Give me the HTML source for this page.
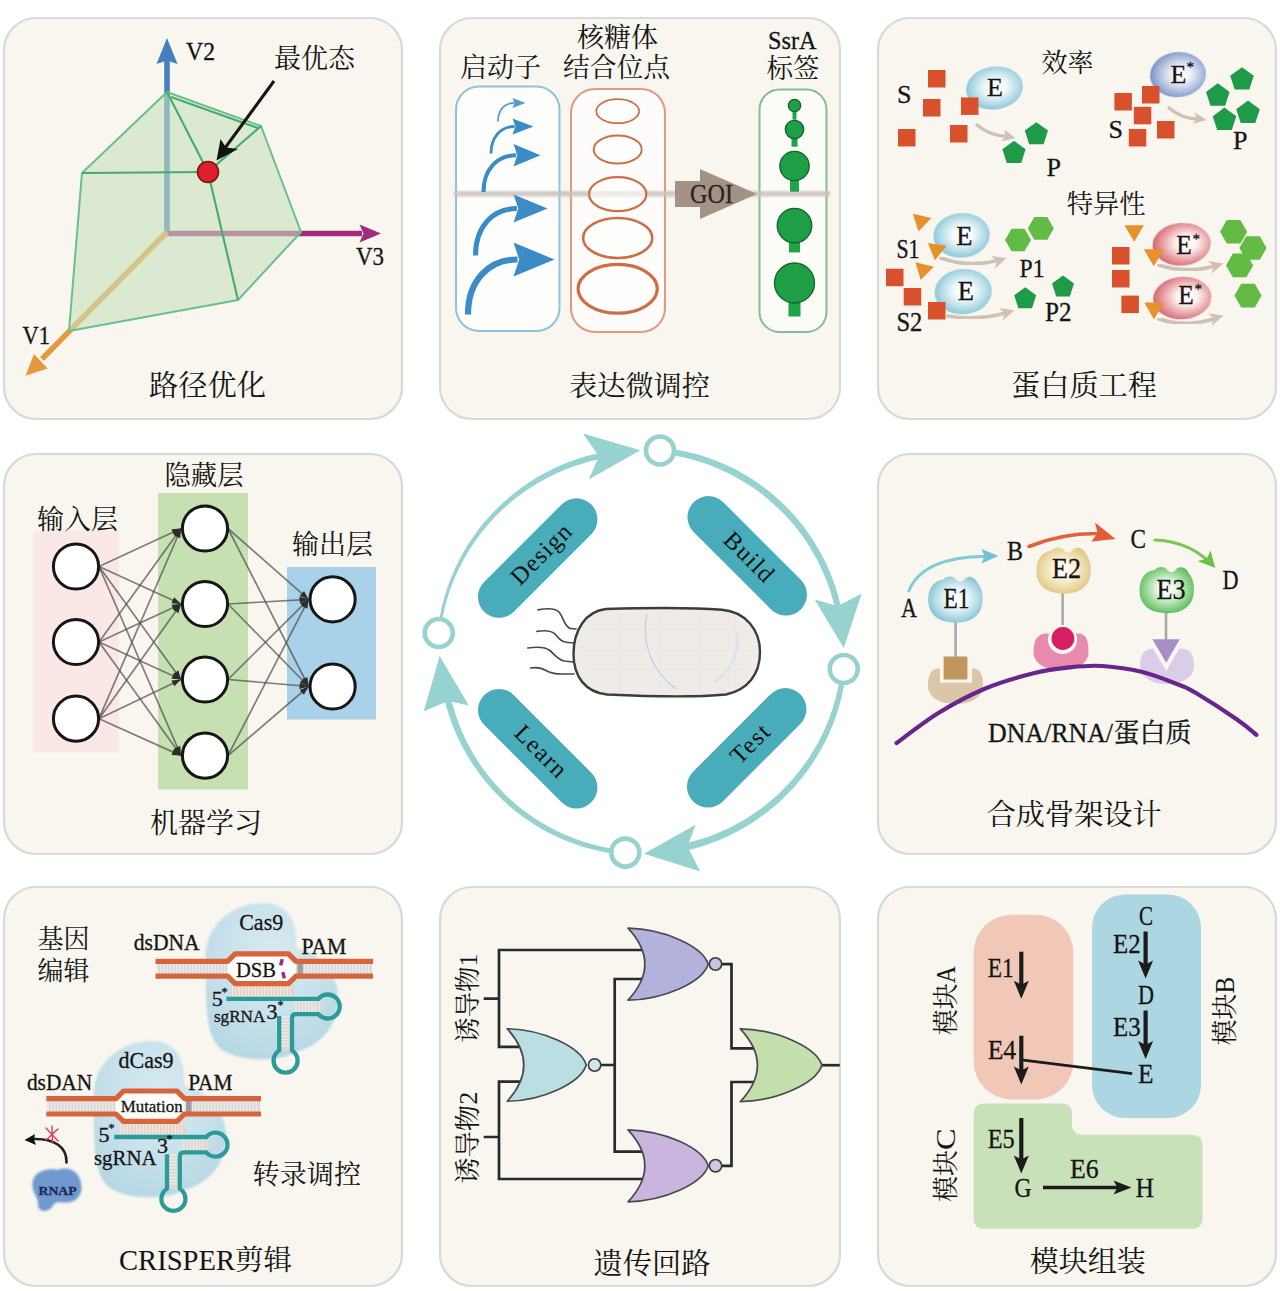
<!DOCTYPE html>
<html lang="zh"><head><meta charset="utf-8"><title>DBTL</title>
<style>
html,body{margin:0;padding:0;background:#fff;}
svg{display:block;font-family:"Liberation Serif", "Noto Serif CJK SC", serif;}
</style></head><body>
<svg width="1280" height="1291" viewBox="0 0 1280 1291">
<defs>
<filter id="soft" x="-10%" y="-10%" width="120%" height="120%"><feGaussianBlur stdDeviation="0.6"/></filter>
<filter id="soft2" x="-10%" y="-10%" width="120%" height="120%"><feGaussianBlur stdDeviation="1.2"/></filter>
<filter id="soft3" x="-20%" y="-20%" width="140%" height="140%"><feGaussianBlur stdDeviation="2.2"/></filter>
<radialGradient id="gBlue" cx="52%" cy="48%" r="56%"><stop offset="0" stop-color="#ffffff"/><stop offset="0.32" stop-color="#f3fafb"/><stop offset="0.72" stop-color="#b2dbe5"/><stop offset="1" stop-color="#80c0d3"/></radialGradient>
<radialGradient id="gIndigo" cx="55%" cy="50%" r="58%"><stop offset="0" stop-color="#ffffff"/><stop offset="0.3" stop-color="#eef1f8"/><stop offset="0.7" stop-color="#a9b8da"/><stop offset="1" stop-color="#7189bf"/></radialGradient>
<radialGradient id="gPink" cx="58%" cy="48%" r="56%"><stop offset="0" stop-color="#ffffff"/><stop offset="0.32" stop-color="#fdf3f2"/><stop offset="0.72" stop-color="#e9a0a6"/><stop offset="1" stop-color="#d46e79"/></radialGradient>
<radialGradient id="gTan" cx="50%" cy="48%" r="58%"><stop offset="0" stop-color="#ffffff"/><stop offset="0.3" stop-color="#fbf5e4"/><stop offset="0.7" stop-color="#ecd9a6"/><stop offset="1" stop-color="#dfc07a"/></radialGradient>
<radialGradient id="gGreen" cx="50%" cy="48%" r="58%"><stop offset="0" stop-color="#ffffff"/><stop offset="0.3" stop-color="#eaf7e8"/><stop offset="0.7" stop-color="#8fd48c"/><stop offset="1" stop-color="#4fb552"/></radialGradient>
<radialGradient id="gCas" cx="50%" cy="35%" r="70%"><stop offset="0" stop-color="#d9eaf0"/><stop offset="0.6" stop-color="#c6e0ea"/><stop offset="1" stop-color="#b3d6e3"/></radialGradient>
</defs>
<rect width="1280" height="1291" fill="#ffffff"/>

<rect x="4" y="18" width="398" height="401" rx="32" ry="32" fill="#f8f6ee" stroke="#d9d9d5" stroke-width="2.2" filter="url(#soft)"/>
<rect x="440" y="18" width="400" height="401" rx="32" ry="32" fill="#f8f6ee" stroke="#d9d9d5" stroke-width="2.2" filter="url(#soft)"/>
<rect x="878" y="18" width="398" height="401" rx="32" ry="32" fill="#f8f6ee" stroke="#d9d9d5" stroke-width="2.2" filter="url(#soft)"/>
<rect x="4" y="454" width="398" height="400" rx="32" ry="32" fill="#f8f6ee" stroke="#d9d9d5" stroke-width="2.2" filter="url(#soft)"/>
<rect x="878" y="454" width="398" height="400" rx="32" ry="32" fill="#f8f6ee" stroke="#d9d9d5" stroke-width="2.2" filter="url(#soft)"/>
<rect x="4" y="887" width="398" height="399" rx="32" ry="32" fill="#f8f6ee" stroke="#d9d9d5" stroke-width="2.2" filter="url(#soft)"/>
<rect x="440" y="887" width="400" height="399" rx="32" ry="32" fill="#f8f6ee" stroke="#d9d9d5" stroke-width="2.2" filter="url(#soft)"/>
<rect x="878" y="887" width="398" height="399" rx="32" ry="32" fill="#f8f6ee" stroke="#d9d9d5" stroke-width="2.2" filter="url(#soft)"/>
<g id="p1">
<line x1="167" y1="232" x2="167" y2="60" stroke="#4580bd" stroke-width="5.6"/>
<polygon points="167,38 156.5,64 167,60.5 177.5,64" fill="#4580bd"/>
<line x1="167" y1="233.5" x2="362" y2="233.5" stroke="#a02c7c" stroke-width="5.4"/>
<polygon points="381,233.5 359.5,224.5 363.5,233.5 359.5,242.5" fill="#a02c7c"/>
<line x1="167" y1="232" x2="42" y2="359" stroke="#e8983c" stroke-width="5.4"/>
<polygon points="25.6,375.8 34,354 41.8,362.3 47.5,368.6" fill="#e8983c"/>
<polygon points="167,92 261,126 301,232 238,300 69,331 82,173" fill="#c8e0bc" fill-opacity="0.58" stroke="#6bbf8c" stroke-width="2" stroke-linejoin="round"/>
<line x1="167" y1="92" x2="208" y2="172" stroke="#45ab6e" stroke-width="2.1"/>
<line x1="208" y1="172" x2="261" y2="126" stroke="#45ab6e" stroke-width="2.1"/>
<line x1="82" y1="173" x2="208" y2="172" stroke="#45ab6e" stroke-width="2.1"/>
<line x1="208" y1="172" x2="238" y2="300" stroke="#45ab6e" stroke-width="2.1"/>
<line x1="171" y1="97" x2="259" y2="128.5" stroke="#45ab6e" stroke-width="2.1"/>
<line x1="274" y1="81" x2="225" y2="148" stroke="#151515" stroke-width="3"/>
<polygon points="216.5,160.5 220.5,139 226,147.5 238,149" fill="#111"/>
<circle cx="208" cy="172" r="10.5" fill="#df1f2b" stroke="#7c1418" stroke-width="1.6"/>
<text x="186" y="60" font-size="25" textLength="29" lengthAdjust="spacingAndGlyphs" fill="#151515" stroke="#151515" stroke-width="0.3">V2</text>
<text x="356" y="265" font-size="25" textLength="28" lengthAdjust="spacingAndGlyphs" fill="#151515" stroke="#151515" stroke-width="0.3">V3</text>
<text x="22.5" y="343.75" font-size="26" textLength="27.5" lengthAdjust="spacingAndGlyphs" fill="#151515" stroke="#151515" stroke-width="0.3">V1</text>
<text x="274" y="68" font-size="27" textLength="81" lengthAdjust="spacingAndGlyphs" fill="#151515">最优态</text>
<text x="149" y="396" font-size="29" textLength="117" lengthAdjust="spacingAndGlyphs" fill="#151515">路径优化</text>
</g>
<g id="p2">
<rect x="456" y="86.5" width="103.5" height="244.5" rx="23" fill="#fdfdfc" stroke="#8ec3de" stroke-width="2"/>
<rect x="571" y="89" width="94" height="243" rx="24" fill="#fdfcfa" stroke="#e39a7c" stroke-width="2"/>
<rect x="759.5" y="89.5" width="67" height="242.5" rx="20" fill="#fbfcf8" stroke="#86bb98" stroke-width="2"/>
<rect x="454" y="191" width="376" height="5.6" fill="#cbc2ba" opacity="0.85" filter="url(#soft2)"/>
<polygon points="675,181 700,181 700,169 757,194 700,219 700,207 675,207" fill="#a39387" filter="url(#soft)"/>
<text x="690" y="202.5" font-size="26.5" textLength="43" lengthAdjust="spacingAndGlyphs" fill="#2a2420" stroke="#2a2420" stroke-width="0.3">GOI</text>
<path d="M498,121.5 C498,110.03 504.63599999999997,103 513.8,103" fill="none" stroke="#3b8bc6" stroke-width="1.8" stroke-linecap="butt" opacity="0.85"/>
<polygon points="525.5,103 512.5,98.0 514.32,103 512.5,108.0" fill="#3b8bc6" opacity="0.85"/>
<path d="M491,153.5 C491,136.76 500.91200000000003,126.5 514.6,126.5" fill="none" stroke="#3b8bc6" stroke-width="2.8" stroke-linecap="butt" opacity="1"/>
<polygon points="533.5,126.5 512.5,118.5 515.44,126.5 512.5,134.5" fill="#3b8bc6" opacity="1"/>
<path d="M483.5,192 C483.5,169.246 497.23400000000004,155.3 516.2,155.3" fill="none" stroke="#3b8bc6" stroke-width="4" stroke-linecap="butt" opacity="1"/>
<polygon points="540.5,155.3 513.5,144.05 517.28,155.3 513.5,166.55" fill="#3b8bc6" opacity="1"/>
<path d="M475.5,255.5 C475.5,226.36 492.888,208.5 516.9,208.5" fill="none" stroke="#3b8bc6" stroke-width="5" stroke-linecap="butt" opacity="1"/>
<polygon points="547.5,208.5 513.5,194.5 518.26,208.5 513.5,222.5" fill="#3b8bc6" opacity="1"/>
<path d="M468,314.5 C468,280.4 488.832,259.5 517.6,259.5" fill="none" stroke="#3b8bc6" stroke-width="6.2" stroke-linecap="butt" opacity="1"/>
<polygon points="554.5,259.5 513.5,242.5 519.24,259.5 513.5,276.5" fill="#3b8bc6" opacity="1"/>
<ellipse cx="617.7" cy="111.2" rx="21.4" ry="12" fill="#ffffff" fill-opacity="0.6" stroke="#cd6e45" stroke-width="1.7"/>
<ellipse cx="617.7" cy="149.5" rx="24" ry="14" fill="#ffffff" fill-opacity="0.6" stroke="#cd6e45" stroke-width="1.9"/>
<ellipse cx="617.7" cy="194.2" rx="28.6" ry="17" fill="#ffffff" fill-opacity="0.6" stroke="#cd6e45" stroke-width="2.2"/>
<ellipse cx="617.7" cy="238" rx="34.6" ry="20" fill="#ffffff" fill-opacity="0.6" stroke="#cd6e45" stroke-width="2.6"/>
<ellipse cx="617.7" cy="288.8" rx="39.6" ry="24.4" fill="#ffffff" fill-opacity="0.6" stroke="#cd6e45" stroke-width="3.2"/>
<rect x="792.5" y="105.5" width="4" height="14.2" fill="#1fa347"/>
<circle cx="794.5" cy="105.5" r="6.2" fill="#1e9f45" stroke="#12632c" stroke-width="1.3"/>
<rect x="791.5" y="129.5" width="6" height="17.2" fill="#1fa347"/>
<circle cx="794.5" cy="129.5" r="9.2" fill="#1e9f45" stroke="#12632c" stroke-width="1.3"/>
<rect x="790.0" y="166" width="9" height="25.7" fill="#1fa347"/>
<circle cx="794.5" cy="166" r="14.7" fill="#1e9f45" stroke="#12632c" stroke-width="1.3"/>
<rect x="789.0" y="225.6" width="11" height="26.8" fill="#1fa347"/>
<circle cx="794.5" cy="225.6" r="17.3" fill="#1e9f45" stroke="#12632c" stroke-width="1.3"/>
<rect x="788.5" y="283" width="12" height="33.5" fill="#1fa347"/>
<circle cx="794.5" cy="283" r="20" fill="#1e9f45" stroke="#12632c" stroke-width="1.3"/>
<text x="460" y="77" font-size="27" textLength="81" lengthAdjust="spacingAndGlyphs" fill="#151515">启动子</text>
<text x="577" y="47" font-size="27" textLength="81" lengthAdjust="spacingAndGlyphs" fill="#151515">核糖体</text>
<text x="563" y="77" font-size="27" textLength="107" lengthAdjust="spacingAndGlyphs" fill="#151515">结合位点</text>
<text x="768" y="48.5" font-size="24.5" textLength="48.5" lengthAdjust="spacingAndGlyphs" fill="#151515" stroke="#151515" stroke-width="0.3">SsrA</text>
<text x="766.5" y="77.5" font-size="27" textLength="53" lengthAdjust="spacingAndGlyphs" fill="#151515">标签</text>
<text x="569" y="396" font-size="28.5" textLength="141" lengthAdjust="spacingAndGlyphs" fill="#151515">表达微调控</text>
</g>
<g id="p3">
<text x="1041.5" y="72" font-size="26.5" textLength="52" lengthAdjust="spacingAndGlyphs" fill="#151515">效率</text>
<ellipse cx="994.5" cy="88" rx="28.5" ry="21.5" fill="url(#gBlue)" transform="rotate(-8 994.5 88)" filter="url(#soft)"/>
<rect x="928" y="70" width="17.5" height="17.5" fill="#d9512c"/>
<rect x="923" y="99" width="17.5" height="17.5" fill="#d9512c"/>
<rect x="961" y="97.4" width="17.5" height="17.5" fill="#d9512c"/>
<rect x="898" y="129" width="17.5" height="17.5" fill="#d9512c"/>
<rect x="950" y="125" width="17.5" height="17.5" fill="#d9512c"/>
<text x="897" y="102.5" font-size="26" fill="#151515" stroke="#151515" stroke-width="0.3">S</text>
<text x="987" y="95.7" font-size="26" fill="#151515" stroke="#151515" stroke-width="0.3">E</text>
<path d="M977,125 Q990,136 1008,136.5" fill="none" stroke="#cfc1b4" stroke-width="3.4" stroke-linecap="round" filter="url(#soft)"/>
<polygon points="1015.5,138.0 1001.5,141.2 1006.0,136.0 1004.0,129.4" fill="#cfc1b4"/>
<polygon points="1036.4,122.2 1048.0,130.6 1043.6,144.3 1029.2,144.3 1024.8,130.6" fill="#1f9a48"/>
<polygon points="1014.0,140.8 1025.6,149.2 1021.2,162.9 1006.8,162.9 1002.4,149.2" fill="#1f9a48"/>
<text x="1046.5" y="176.4" font-size="26" fill="#151515" stroke="#151515" stroke-width="0.3">P</text>
<ellipse cx="1178" cy="74.6" rx="28" ry="22.5" fill="url(#gIndigo)" transform="rotate(-5 1178 74.6)" filter="url(#soft)"/>
<rect x="1114.4" y="93" width="17.5" height="17.5" fill="#d9512c"/>
<rect x="1142" y="86" width="17.5" height="17.5" fill="#d9512c"/>
<rect x="1133.8" y="106.8" width="17.5" height="17.5" fill="#d9512c"/>
<rect x="1157" y="121" width="17.5" height="17.5" fill="#d9512c"/>
<rect x="1128.8" y="129" width="17.5" height="17.5" fill="#d9512c"/>
<text x="1108.6" y="137.7" font-size="26" fill="#151515" stroke="#151515" stroke-width="0.3">S</text>
<text x="1170.5" y="83" font-size="26" fill="#151515" stroke="#151515" stroke-width="0.3">E</text>
<text x="1186.5" y="72" font-size="15" fill="#151515" stroke="#151515" stroke-width="0.3">*</text>
<path d="M1169,108 Q1182,119 1199,119" fill="none" stroke="#cfc1b4" stroke-width="3.4" stroke-linecap="round" filter="url(#soft)"/>
<polygon points="1206.5,120.0 1192.8,124.1 1196.8,118.6 1194.5,112.2" fill="#cfc1b4"/>
<polygon points="1242.0,67.2 1253.8,75.8 1249.3,89.6 1234.7,89.6 1230.2,75.8" fill="#1f9a48"/>
<polygon points="1217.8,83.3 1229.6,91.9 1225.1,105.7 1210.5,105.7 1206.0,91.9" fill="#1f9a48"/>
<polygon points="1248.0,100.6 1259.8,109.2 1255.3,123.0 1240.7,123.0 1236.2,109.2" fill="#1f9a48"/>
<polygon points="1224.5,107.6 1236.3,116.2 1231.8,130.0 1217.2,130.0 1212.7,116.2" fill="#1f9a48"/>
<text x="1233" y="148.8" font-size="26" fill="#151515" stroke="#151515" stroke-width="0.3">P</text>
<text x="1066.7" y="213" font-size="26.5" textLength="79" lengthAdjust="spacingAndGlyphs" fill="#151515">特异性</text>
<ellipse cx="961.6" cy="235.3" rx="28.2" ry="22.3" fill="url(#gBlue)" transform="rotate(-4 961.6 235.3)" filter="url(#soft)"/>
<ellipse cx="963.2" cy="291.7" rx="28.6" ry="22.6" fill="url(#gBlue)" transform="rotate(-4 963.2 291.7)" filter="url(#soft)"/>
<polygon points="-9.5,-6.72 9.5,-6.72 0,9.28" fill="#e6912c" transform="translate(920.6 222.5) rotate(13)"/>
<polygon points="-9.5,-6.72 9.5,-6.72 0,9.28" fill="#e6912c" transform="translate(936.3 251) rotate(9)"/>
<polygon points="-9.5,-6.72 9.5,-6.72 0,9.28" fill="#e6912c" transform="translate(923 271) rotate(14)"/>
<rect x="886" y="268.7" width="17.5" height="17.5" fill="#d9512c"/>
<rect x="903.7" y="288" width="17.5" height="17.5" fill="#d9512c"/>
<rect x="928" y="302" width="17.5" height="17.5" fill="#d9512c"/>
<text x="956.3" y="244.5" font-size="26.5" fill="#151515" stroke="#151515" stroke-width="0.3">E</text>
<text x="957.8" y="299.5" font-size="26.5" fill="#151515" stroke="#151515" stroke-width="0.3">E</text>
<text x="896.4" y="258.2" font-size="27.3" textLength="23" lengthAdjust="spacingAndGlyphs" fill="#151515" stroke="#151515" stroke-width="0.3">S1</text>
<text x="896.4" y="331.3" font-size="27.3" textLength="26" lengthAdjust="spacingAndGlyphs" fill="#151515" stroke="#151515" stroke-width="0.3">S2</text>
<path d="M941,258 Q968,268 998,260.5" fill="none" stroke="#cfc1b4" stroke-width="3.8" stroke-linecap="round" filter="url(#soft)"/>
<polygon points="1006.5,258.0 995.2,268.5 996.5,261.2 991.2,256.1" fill="#cfc1b4"/>
<path d="M948,316 Q975,321 1006,313" fill="none" stroke="#cfc1b4" stroke-width="3.8" stroke-linecap="round" filter="url(#soft)"/>
<polygon points="1014.5,310.5 1002.8,320.6 1004.4,313.4 999.3,308.1" fill="#cfc1b4"/>
<polygon points="1031.0,240.0 1024.5,251.3 1011.5,251.3 1005.0,240.0 1011.5,228.7 1024.5,228.7" fill="#63bb45"/>
<polygon points="1053.8,228.4 1047.3,239.7 1034.3,239.7 1027.8,228.4 1034.3,217.1 1047.3,217.1" fill="#63bb45"/>
<text x="1019.6" y="277" font-size="26" textLength="25" lengthAdjust="spacingAndGlyphs" fill="#151515" stroke="#151515" stroke-width="0.3">P1</text>
<polygon points="1025.2,287.2 1036.2,295.2 1032.0,308.2 1018.4,308.2 1014.2,295.2" fill="#1f9a48"/>
<polygon points="1063.0,275.4 1074.0,283.4 1069.8,296.4 1056.2,296.4 1052.0,283.4" fill="#1f9a48"/>
<text x="1045" y="320.5" font-size="27" textLength="26.5" lengthAdjust="spacingAndGlyphs" fill="#151515" stroke="#151515" stroke-width="0.3">P2</text>
<ellipse cx="1181.7" cy="244.2" rx="29.2" ry="21.3" fill="url(#gPink)" transform="rotate(-4 1181.7 244.2)" filter="url(#soft)"/>
<ellipse cx="1182.3" cy="298" rx="29.2" ry="21.3" fill="url(#gPink)" transform="rotate(-4 1182.3 298)" filter="url(#soft)"/>
<polygon points="-9.75,-6.93 9.75,-6.93 0,9.569999999999999" fill="#e6912c" transform="translate(1134.2 232.3) rotate(0)"/>
<polygon points="-10.0,-7.14 10.0,-7.14 0,9.86" fill="#e6912c" transform="translate(1153.8 256.5) rotate(0)"/>
<polygon points="-9.75,-7.14 9.75,-7.14 0,9.86" fill="#e6912c" transform="translate(1154 309.6) rotate(0)"/>
<rect x="1112" y="247" width="17.5" height="17.5" fill="#d9512c"/>
<rect x="1112" y="270" width="17.5" height="17.5" fill="#d9512c"/>
<rect x="1121.4" y="295.6" width="17.5" height="17.5" fill="#d9512c"/>
<text x="1176.2" y="253.5" font-size="28" textLength="15.5" lengthAdjust="spacingAndGlyphs" fill="#151515" stroke="#151515" stroke-width="0.3">E</text>
<text x="1192.5" y="243.5" font-size="15" fill="#151515" stroke="#151515" stroke-width="0.3">*</text>
<text x="1178.2" y="304" font-size="28" textLength="15.5" lengthAdjust="spacingAndGlyphs" fill="#151515" stroke="#151515" stroke-width="0.3">E</text>
<text x="1194.5" y="294" font-size="15" fill="#151515" stroke="#151515" stroke-width="0.3">*</text>
<path d="M1159,265 Q1186,274 1215,266" fill="none" stroke="#cfc1b4" stroke-width="3.8" stroke-linecap="round" filter="url(#soft)"/>
<polygon points="1223.5,263.5 1211.8,273.6 1213.4,266.4 1208.3,261.1" fill="#cfc1b4"/>
<path d="M1159,319 Q1186,328 1215,318.5" fill="none" stroke="#cfc1b4" stroke-width="3.8" stroke-linecap="round" filter="url(#soft)"/>
<polygon points="1223.5,315.7 1211.8,325.8 1213.4,318.6 1208.3,313.3" fill="#cfc1b4"/>
<polygon points="1247.2,231.8 1240.4,243.6 1226.8,243.6 1220.0,231.8 1226.8,220.0 1240.4,220.0" fill="#63bb45"/>
<polygon points="1266.6,248.0 1259.8,259.8 1246.2,259.8 1239.4,248.0 1246.2,236.2 1259.8,236.2" fill="#63bb45"/>
<polygon points="1253.2,265.4 1246.4,277.2 1232.8,277.2 1226.0,265.4 1232.8,253.6 1246.4,253.6" fill="#63bb45"/>
<polygon points="1261.6,295.6 1254.8,307.4 1241.2,307.4 1234.4,295.6 1241.2,283.8 1254.8,283.8" fill="#63bb45"/>
<text x="1011" y="396" font-size="29" textLength="146" lengthAdjust="spacingAndGlyphs" fill="#151515">蛋白质工程</text>
</g>
<g id="p4">
<rect x="33.5" y="531" width="85.5" height="221.5" fill="#f9e8e5"/>
<rect x="158" y="493" width="90" height="296.5" fill="#c6e0b2"/>
<rect x="287" y="567" width="89" height="152.5" fill="#a9d1ea"/>
<line x1="99.0" y1="566.5" x2="181.0" y2="528.5" stroke="#505050" stroke-width="1.7" opacity="0.72"/>
<polygon points="181.0,528.5 174.2,535.2 172.8,532.3 171.5,529.3" fill="#2c2c2c"/>
<line x1="99.0" y1="566.5" x2="181.0" y2="604.0" stroke="#505050" stroke-width="1.7" opacity="0.72"/>
<polygon points="181.0,604.0 171.5,603.2 172.8,600.3 174.2,597.3" fill="#2c2c2c"/>
<line x1="99.0" y1="566.5" x2="181.0" y2="679.5" stroke="#505050" stroke-width="1.7" opacity="0.72"/>
<polygon points="181.0,679.5 173.1,674.1 175.7,672.2 178.3,670.3" fill="#2c2c2c"/>
<line x1="99.0" y1="566.5" x2="181.0" y2="755.6" stroke="#505050" stroke-width="1.7" opacity="0.72"/>
<polygon points="181.0,755.6 174.4,748.6 177.4,747.3 180.4,746.0" fill="#2c2c2c"/>
<line x1="99.0" y1="642.0" x2="181.0" y2="528.5" stroke="#505050" stroke-width="1.7" opacity="0.72"/>
<polygon points="181.0,528.5 178.4,537.7 175.7,535.8 173.1,533.9" fill="#2c2c2c"/>
<line x1="99.0" y1="642.0" x2="181.0" y2="604.0" stroke="#505050" stroke-width="1.7" opacity="0.72"/>
<polygon points="181.0,604.0 174.2,610.7 172.8,607.8 171.5,604.8" fill="#2c2c2c"/>
<line x1="99.0" y1="642.0" x2="181.0" y2="679.5" stroke="#505050" stroke-width="1.7" opacity="0.72"/>
<polygon points="181.0,679.5 171.5,678.7 172.8,675.8 174.2,672.8" fill="#2c2c2c"/>
<line x1="99.0" y1="642.0" x2="181.0" y2="755.6" stroke="#505050" stroke-width="1.7" opacity="0.72"/>
<polygon points="181.0,755.6 173.1,750.2 175.7,748.3 178.4,746.4" fill="#2c2c2c"/>
<line x1="99.0" y1="718.7" x2="181.0" y2="528.5" stroke="#505050" stroke-width="1.7" opacity="0.72"/>
<polygon points="181.0,528.5 180.4,538.1 177.4,536.8 174.5,535.5" fill="#2c2c2c"/>
<line x1="99.0" y1="718.7" x2="181.0" y2="604.0" stroke="#505050" stroke-width="1.7" opacity="0.72"/>
<polygon points="181.0,604.0 178.4,613.2 175.8,611.3 173.1,609.4" fill="#2c2c2c"/>
<line x1="99.0" y1="718.7" x2="181.0" y2="679.5" stroke="#505050" stroke-width="1.7" opacity="0.72"/>
<polygon points="181.0,679.5 174.3,686.3 172.9,683.4 171.5,680.4" fill="#2c2c2c"/>
<line x1="99.0" y1="718.7" x2="181.0" y2="755.6" stroke="#505050" stroke-width="1.7" opacity="0.72"/>
<polygon points="181.0,755.6 171.5,754.9 172.8,751.9 174.1,748.9" fill="#2c2c2c"/>
<line x1="228.0" y1="528.5" x2="308.6" y2="599.3" stroke="#505050" stroke-width="1.7" opacity="0.72"/>
<polygon points="308.6,599.3 299.7,595.8 301.8,593.4 304.0,590.9" fill="#2c2c2c"/>
<line x1="228.0" y1="528.5" x2="308.6" y2="686.5" stroke="#505050" stroke-width="1.7" opacity="0.72"/>
<polygon points="308.6,686.5 301.6,680.0 304.5,678.5 307.4,677.0" fill="#2c2c2c"/>
<line x1="228.0" y1="604.0" x2="308.6" y2="599.3" stroke="#505050" stroke-width="1.7" opacity="0.72"/>
<polygon points="308.6,599.3 299.8,603.1 299.6,599.8 299.4,596.6" fill="#2c2c2c"/>
<line x1="228.0" y1="604.0" x2="308.6" y2="686.5" stroke="#505050" stroke-width="1.7" opacity="0.72"/>
<polygon points="308.6,686.5 300.0,682.3 302.3,680.1 304.6,677.8" fill="#2c2c2c"/>
<line x1="228.0" y1="679.5" x2="308.6" y2="599.3" stroke="#505050" stroke-width="1.7" opacity="0.72"/>
<polygon points="308.6,599.3 304.5,608.0 302.2,605.6 299.9,603.3" fill="#2c2c2c"/>
<line x1="228.0" y1="679.5" x2="308.6" y2="686.5" stroke="#505050" stroke-width="1.7" opacity="0.72"/>
<polygon points="308.6,686.5 299.4,689.0 299.6,685.7 299.9,682.5" fill="#2c2c2c"/>
<line x1="228.0" y1="755.6" x2="308.6" y2="599.3" stroke="#505050" stroke-width="1.7" opacity="0.72"/>
<polygon points="308.6,599.3 307.4,608.8 304.5,607.3 301.6,605.8" fill="#2c2c2c"/>
<line x1="228.0" y1="755.6" x2="308.6" y2="686.5" stroke="#505050" stroke-width="1.7" opacity="0.72"/>
<polygon points="308.6,686.5 303.9,694.8 301.8,692.4 299.7,689.9" fill="#2c2c2c"/>
<circle cx="76" cy="566.5" r="22.6" fill="#ffffff" stroke="#161616" stroke-width="3"/>
<circle cx="76" cy="642" r="22.6" fill="#ffffff" stroke="#161616" stroke-width="3"/>
<circle cx="76" cy="718.7" r="22.6" fill="#ffffff" stroke="#161616" stroke-width="3"/>
<circle cx="205" cy="528.5" r="22.6" fill="#ffffff" stroke="#161616" stroke-width="3"/>
<circle cx="205" cy="604" r="22.6" fill="#ffffff" stroke="#161616" stroke-width="3"/>
<circle cx="205" cy="679.5" r="22.6" fill="#ffffff" stroke="#161616" stroke-width="3"/>
<circle cx="205" cy="755.6" r="22.6" fill="#ffffff" stroke="#161616" stroke-width="3"/>
<circle cx="332.6" cy="599.3" r="22.6" fill="#ffffff" stroke="#161616" stroke-width="3"/>
<circle cx="332.6" cy="686.5" r="22.6" fill="#ffffff" stroke="#161616" stroke-width="3"/>
<text x="37" y="529" font-size="27" textLength="81" lengthAdjust="spacingAndGlyphs" fill="#151515">输入层</text>
<text x="164.5" y="485.4" font-size="27" textLength="79" lengthAdjust="spacingAndGlyphs" fill="#151515">隐藏层</text>
<text x="292" y="554" font-size="27" textLength="81" lengthAdjust="spacingAndGlyphs" fill="#151515">输出层</text>
<text x="150" y="833" font-size="28.5" textLength="112" lengthAdjust="spacingAndGlyphs" fill="#151515">机器学习</text>
</g>
<g id="p5">
<polygon points="437.5,632.9 438.2,626.5 439.2,620.1 440.4,613.8 441.7,607.6 443.3,601.3 445.0,595.2 447.0,589.0 449.1,583.0 451.4,577.0 453.9,571.1 456.6,565.2 459.5,559.5 462.6,553.8 465.8,548.3 469.2,542.8 472.8,537.5 476.5,532.2 480.4,527.1 484.5,522.1 488.7,517.2 493.1,512.5 497.6,507.9 502.2,503.5 507.0,499.2 512.0,495.0 517.0,491.0 522.2,487.1 527.5,483.5 532.9,480.0 538.4,476.6 544.0,473.4 549.8,470.4 555.6,467.6 561.5,465.0 567.5,462.6 573.5,460.3 579.6,458.2 585.8,456.3 592.1,454.7 598.4,453.2 599.6,459.2 593.5,460.6 587.4,462.1 581.4,463.9 575.4,465.8 569.5,467.9 563.7,470.2 557.9,472.7 552.2,475.4 546.6,478.2 541.1,481.2 535.6,484.4 530.3,487.7 525.1,491.3 520.0,494.9 515.0,498.8 510.1,502.8 505.4,506.9 500.8,511.2 496.3,515.6 492.0,520.2 487.8,524.9 483.7,529.7 479.8,534.7 476.1,539.8 472.5,545.0 469.1,550.3 465.8,555.7 462.8,561.2 459.9,566.8 457.1,572.5 454.6,578.3 452.2,584.2 450.0,590.1 448.0,596.1 446.2,602.1 444.6,608.3 443.2,614.4 441.9,620.6 440.9,626.9 440.0,633.1" fill="#95d2d0"/>
<polygon points="640.3,450.3 583,433.4 599,456.2 588.75,479.4" fill="#95d2d0"/>
<polygon points="660.3,447.5 666.6,448.2 673.0,449.1 679.3,450.2 685.6,451.4 691.8,452.9 698.0,454.6 704.1,456.4 710.1,458.5 716.1,460.7 722.1,463.2 727.9,465.8 733.7,468.6 739.3,471.6 744.9,474.7 750.4,478.1 755.7,481.6 761.0,485.2 766.1,489.0 771.1,493.0 776.0,497.2 780.8,501.5 785.4,505.9 789.8,510.5 794.2,515.2 798.3,520.1 802.4,525.1 806.2,530.2 809.9,535.4 813.5,540.7 816.8,546.2 820.0,551.7 823.0,557.4 825.9,563.1 828.5,568.9 831.0,574.8 833.3,580.8 835.4,586.8 837.3,592.9 839.0,599.1 840.5,605.3 834.7,606.7 833.1,600.7 831.4,594.7 829.5,588.8 827.4,583.0 825.2,577.2 822.7,571.5 820.1,565.9 817.3,560.3 814.4,554.9 811.2,549.5 808.0,544.3 804.5,539.1 800.9,534.1 797.1,529.1 793.2,524.3 789.2,519.6 785.0,515.1 780.7,510.7 776.2,506.4 771.6,502.2 766.9,498.2 762.0,494.3 757.1,490.6 752.0,487.1 746.8,483.7 741.5,480.4 736.1,477.4 730.7,474.5 725.1,471.7 719.5,469.2 713.7,466.8 708.0,464.6 702.1,462.5 696.2,460.7 690.2,459.0 684.2,457.5 678.1,456.2 672.0,455.1 665.9,454.2 659.7,453.5" fill="#95d2d0"/>
<polygon points="843.75,648.1 814.7,599.4 837.6,606 861.6,593.75" fill="#95d2d0"/>
<polygon points="846.3,669.3 845.6,675.6 844.6,681.9 843.5,688.2 842.2,694.5 840.7,700.7 838.9,706.8 837.0,712.9 835.0,719.0 832.7,724.9 830.2,730.8 827.6,736.7 824.8,742.4 821.8,748.0 818.6,753.6 815.3,759.1 811.8,764.4 808.1,769.7 804.3,774.8 800.3,779.8 796.2,784.7 791.9,789.4 787.5,794.1 782.9,798.6 778.2,802.9 773.4,807.1 768.4,811.2 763.3,815.1 758.1,818.8 752.8,822.4 747.4,825.8 741.9,829.0 736.2,832.1 730.5,835.0 724.7,837.7 718.8,840.3 712.9,842.6 706.8,844.8 700.7,846.8 694.6,848.6 688.4,850.2 686.6,843.0 692.6,841.5 698.6,839.8 704.5,837.9 710.3,835.9 716.1,833.7 721.8,831.3 727.5,828.7 733.0,825.9 738.5,823.0 743.9,819.9 749.1,816.7 754.3,813.2 759.4,809.7 764.3,805.9 769.2,802.1 773.9,798.0 778.5,793.9 782.9,789.6 787.3,785.1 791.5,780.5 795.5,775.8 799.4,771.0 803.2,766.1 806.8,761.0 810.2,755.8 813.5,750.5 816.6,745.2 819.6,739.7 822.3,734.2 825.0,728.5 827.4,722.8 829.7,717.0 831.7,711.2 833.6,705.2 835.4,699.3 836.9,693.2 838.2,687.2 839.4,681.0 840.4,674.9 841.2,668.7" fill="#95d2d0"/>
<polygon points="644,853.75 695.6,824.7 687.5,846.6 700.3,871.6" fill="#95d2d0"/>
<polygon points="625.1,854.9 618.8,854.3 612.6,853.4 606.4,852.4 600.2,851.2 594.1,849.8 588.0,848.2 582.0,846.4 576.0,844.4 570.1,842.3 564.2,840.0 558.5,837.5 552.8,834.8 547.2,831.9 541.7,828.9 536.2,825.7 530.9,822.3 525.7,818.7 520.6,815.1 515.6,811.2 510.8,807.2 506.0,803.0 501.4,798.7 496.9,794.3 492.6,789.7 488.4,785.0 484.4,780.2 480.5,775.2 476.7,770.1 473.2,764.9 469.7,759.6 466.5,754.2 463.4,748.7 460.5,743.1 457.7,737.5 455.2,731.7 452.8,725.8 450.6,719.9 448.6,713.9 446.7,707.9 445.1,701.8 451.5,700.2 453.0,706.1 454.8,712.0 456.7,717.8 458.8,723.5 461.0,729.2 463.5,734.8 466.1,740.4 468.9,745.8 471.8,751.2 474.9,756.4 478.2,761.6 481.6,766.7 485.2,771.6 489.0,776.5 492.9,781.2 496.9,785.8 501.1,790.3 505.4,794.7 509.8,798.9 514.4,802.9 519.1,806.9 523.9,810.7 528.9,814.3 533.9,817.8 539.1,821.1 544.3,824.3 549.7,827.3 555.1,830.1 560.6,832.8 566.2,835.3 571.9,837.6 577.7,839.7 583.5,841.7 589.4,843.5 595.3,845.1 601.3,846.5 607.3,847.7 613.3,848.8 619.4,849.6 625.5,850.3" fill="#95d2d0"/>
<polygon points="439.7,656 423.75,711.25 448.3,701 468.75,705.6" fill="#95d2d0"/>
<circle cx="438.75" cy="633" r="14" fill="#ffffff" stroke="#95d2d0" stroke-width="4.6"/>
<circle cx="660" cy="450.5" r="14" fill="#ffffff" stroke="#95d2d0" stroke-width="4.6"/>
<circle cx="843.75" cy="669" r="14" fill="#ffffff" stroke="#95d2d0" stroke-width="4.6"/>
<circle cx="625.3" cy="852.6" r="14" fill="#ffffff" stroke="#95d2d0" stroke-width="4.6"/>
<g transform="translate(537.7 558.1) rotate(-45)">
<rect x="-75.8" y="-21.0" width="151.6" height="42" rx="21.0" fill="#49acba"/>
<text x="5" y="7.5" font-size="24.5" text-anchor="middle" textLength="75" lengthAdjust="spacing" fill="#101010">Design</text>
</g>
<g transform="translate(747.2 555.8) rotate(45)">
<rect x="-75.8" y="-21.0" width="151.6" height="42" rx="21.0" fill="#49acba"/>
<text x="2" y="7.5" font-size="24.5" text-anchor="middle" textLength="60" lengthAdjust="spacing" fill="#101010">Build</text>
</g>
<g transform="translate(537.7 748.75) rotate(45)">
<rect x="-75.8" y="-21.0" width="151.6" height="42" rx="21.0" fill="#49acba"/>
<text x="4" y="7.5" font-size="24.5" text-anchor="middle" textLength="63" lengthAdjust="spacing" fill="#101010">Learn</text>
</g>
<g transform="translate(746.7 747.8) rotate(-45)">
<rect x="-75.8" y="-21.0" width="151.6" height="42" rx="21.0" fill="#49acba"/>
<text x="5" y="7.5" font-size="24.5" text-anchor="middle" textLength="45" lengthAdjust="spacing" fill="#101010">Test</text>
</g>
<path d="M538,609.8 C548,608 556,609 559,612 C564,618 564,626 570,628.4 L576,629" fill="none" stroke="#4a4a4a" stroke-width="1.7" stroke-linecap="round" filter="url(#soft)"/>
<path d="M537,631.3 C546,630 552,631 555,634 C559,639 562,642 568,642.5 L574,643" fill="none" stroke="#4a4a4a" stroke-width="1.7" stroke-linecap="round" filter="url(#soft)"/>
<path d="M527.8,648 C538,646.5 546,647.5 550,650.5 C555,655 558,659.5 564,661 L573,662" fill="none" stroke="#4a4a4a" stroke-width="1.7" stroke-linecap="round" filter="url(#soft)"/>
<path d="M530.6,668 C538,667 542,668 546,670.5 C551,673.5 556,674 562,674 L574,674" fill="none" stroke="#4a4a4a" stroke-width="1.7" stroke-linecap="round" filter="url(#soft)"/>
<path d="M606,609 C650,607.6 700,608 722,609.8 C746,612 760,630 760,652 C760,674 748,690 726,694.5 C700,697 650,696.5 607,694.5 C586,692.5 573.5,677 573.5,654 C573.5,630 586,611 606,609 Z" fill="#efece8" stroke="#3c3c3c" stroke-width="2.4" filter="url(#soft)"/>
<path d="M647,614 C641,640 650,670 676,689" fill="none" stroke="#c4c6e0" stroke-width="1.1"/>
<path d="M737,632 C740,652 731,672 713,683" fill="none" stroke="#d4d5e8" stroke-width="1.1"/>
<path d="M590,630h150M585,650h165M588,670h155M620,612v80M660,611v83M700,611v83M735,618v68" fill="none" stroke="#e1e2ea" stroke-width="0.8" opacity="0.7"/>
</g>
<g id="p6">
<path d="M928,686 C928,675 931,668.6 939,668.6 L973,668.6 C980,668.6 983,675 983,686 C983,698 970,704 955.5,704 C941,704 928,698 928,686 Z" fill="#dbc6a9" filter="url(#soft)"/>
<path d="M1033.5,652 C1033.5,640 1038,633.5 1046,633.5 L1078,633.5 C1086,633.5 1088.5,640 1088.5,652 C1088.5,664 1076,670 1061,670 C1046,670 1033.5,664 1033.5,652 Z" fill="#e78aad" filter="url(#soft)"/>
<path d="M1140,666 C1140,655 1144,648.7 1152,648.7 L1182,648.7 C1190,648.7 1194,655 1194,666 C1194,678 1181,684 1167,684 C1153,684 1140,678 1140,666 Z" fill="#dacde8" filter="url(#soft)"/>
<line x1="955.6" y1="621" x2="955.6" y2="658" stroke="#a9a9a9" stroke-width="2.6"/>
<line x1="1062.6" y1="593" x2="1062.6" y2="629" stroke="#a9a9a9" stroke-width="2.6"/>
<line x1="1166" y1="612" x2="1166" y2="641" stroke="#a9a9a9" stroke-width="2.6"/>
<rect x="940" y="664" width="32" height="18.6" fill="#f8f6ee"/>
<rect x="943.6" y="656.5" width="23.8" height="23" fill="#c0965c"/>
<circle cx="1062.5" cy="639.5" r="14.6" fill="#f8f6ee"/>
<circle cx="1062.9" cy="638.5" r="11.4" fill="#d81e62"/>
<polygon points="1151,645 1181.5,645 1166.3,671" fill="#f8f6ee"/>
<polygon points="1152.4,639.3 1179.8,639.3 1166.2,662.7" fill="#a68fc6"/>
<path d="M896.6,743 C903.6,738.0 923.6,722.1 938.4,713 C953.2,703.9 969.3,695.2 985.3,688.5 C1001.3,681.8 1020.4,676.5 1034.5,673 C1048.6,669.5 1058.7,668.5 1070,667.3 C1081.3,666.1 1090.6,665.2 1102.5,666 C1114.4,666.8 1128.8,668.7 1141.5,671.8 C1154.2,674.9 1169.9,681.3 1179,684.8 C1188.1,688.3 1186.3,687.2 1196,693 C1205.7,698.8 1226.9,712.5 1237,719.5 C1247.1,726.5 1253.2,732.2 1256.4,734.8" fill="none" stroke="#67268c" stroke-width="4.2" stroke-linecap="round" filter="url(#soft)"/>
<path d="M-27,3 C-28,-10 -22,-19 -12,-20 C-9,-24 -2,-24 1,-20 C3,-17 7,-17 9,-20 C12,-25 20,-23 22,-17 C28,-10 29,2 25,11 C20,21 8,24 -3,23 C-17,22 -26,15 -27,3 Z" transform="translate(955.3 599.5)" fill="url(#gBlue)" filter="url(#soft)"/>
<path d="M-27,3 C-28,-10 -22,-19 -12,-20 C-9,-24 -2,-24 1,-20 C3,-17 7,-17 9,-20 C12,-25 20,-23 22,-17 C28,-10 29,2 25,11 C20,21 8,24 -3,23 C-17,22 -26,15 -27,3 Z" transform="translate(1063.5 570.5)" fill="url(#gTan)" filter="url(#soft)"/>
<path d="M-27,3 C-28,-10 -22,-19 -12,-20 C-9,-24 -2,-24 1,-20 C3,-17 7,-17 9,-20 C12,-25 20,-23 22,-17 C28,-10 29,2 25,11 C20,21 8,24 -3,23 C-17,22 -26,15 -27,3 Z" transform="translate(1166.6 590)" fill="url(#gGreen)" filter="url(#soft)"/>
<path d="M908.8,591 C918,568 945,556.5 984,556.5" fill="none" stroke="#7fcbd8" stroke-width="2.8" stroke-linecap="round" filter="url(#soft)"/>
<polygon points="998.5,556 981.5,549 984.5,556.3 981.5,563.5" fill="#6fc3d2"/>
<path d="M1029,546.5 C1052,537 1075,533.5 1097,533.5" fill="none" stroke="#e0633a" stroke-width="3.6" stroke-linecap="round" filter="url(#soft)"/>
<polygon points="1115.5,539 1095,522.5 1097.5,533 1091.5,541.5" fill="#e05c34"/>
<path d="M1155,540 C1178,541 1196,550 1207,560" fill="none" stroke="#7cc653" stroke-width="3.2" stroke-linecap="round" filter="url(#soft)"/>
<polygon points="1215.3,568 1210.5,550.5 1206.5,559 1197.5,561" fill="#6cc04a"/>
<text x="901" y="616.8" font-size="27.5" textLength="16" lengthAdjust="spacingAndGlyphs" fill="#151515" stroke="#151515" stroke-width="0.3">A</text>
<text x="1007" y="559.6" font-size="27.5" textLength="16" lengthAdjust="spacingAndGlyphs" fill="#151515" stroke="#151515" stroke-width="0.3">B</text>
<text x="1130.5" y="548" font-size="27.5" textLength="15.5" lengthAdjust="spacingAndGlyphs" fill="#151515" stroke="#151515" stroke-width="0.3">C</text>
<text x="1222.5" y="588.5" font-size="27" textLength="16" lengthAdjust="spacingAndGlyphs" fill="#151515" stroke="#151515" stroke-width="0.3">D</text>
<text x="943.5" y="608.2" font-size="29.5" textLength="26" lengthAdjust="spacingAndGlyphs" fill="#151515" stroke="#151515" stroke-width="0.3">E1</text>
<text x="1052" y="577.8" font-size="28.5" textLength="29" lengthAdjust="spacingAndGlyphs" fill="#151515" stroke="#151515" stroke-width="0.3">E2</text>
<text x="1156.5" y="598.6" font-size="28.5" textLength="29" lengthAdjust="spacingAndGlyphs" fill="#151515" stroke="#151515" stroke-width="0.3">E3</text>
<text x="988" y="741.7" fill="#151515" stroke="#151515" stroke-width="0.3"><tspan font-size="28" textLength="125" lengthAdjust="spacingAndGlyphs">DNA/RNA/</tspan><tspan font-size="26" x="1113.5" textLength="78" lengthAdjust="spacingAndGlyphs">蛋白质</tspan></text>
<text x="986.7" y="825" font-size="29" textLength="175" lengthAdjust="spacingAndGlyphs" fill="#151515">合成骨架设计</text>
</g>
<g id="p7">
<text x="37.6" y="948" font-size="26.5" textLength="52" lengthAdjust="spacingAndGlyphs" fill="#151515">基因</text>
<text x="37.6" y="980" font-size="26.5" textLength="52" lengthAdjust="spacingAndGlyphs" fill="#151515">编辑</text>
<path d="M206,962 C203,935 222,905 262,903 C290,902 298,925 296,948 C320,952 340,975 338,1002 C336,1030 318,1046 296,1052 C280,1062 240,1062 222,1050 C204,1036 206,1000 206,962 Z" fill="url(#gCas)" filter="url(#soft2)"/>
<rect x="156.5" y="962.9" width="215.5" height="11.800000000000068" fill="#d9d9d6" opacity="1"/>
<path d="M157.5,962.9v11.800000000000068M160.7,962.9v11.800000000000068M163.9,962.9v11.800000000000068M167.1,962.9v11.800000000000068M170.3,962.9v11.800000000000068M173.5,962.9v11.800000000000068M176.7,962.9v11.800000000000068M179.9,962.9v11.800000000000068M183.1,962.9v11.800000000000068M186.3,962.9v11.800000000000068M189.5,962.9v11.800000000000068M192.7,962.9v11.800000000000068M195.9,962.9v11.800000000000068M199.1,962.9v11.800000000000068M202.3,962.9v11.800000000000068M205.5,962.9v11.800000000000068M208.7,962.9v11.800000000000068M211.9,962.9v11.800000000000068M215.1,962.9v11.800000000000068M218.3,962.9v11.800000000000068M221.5,962.9v11.800000000000068M224.7,962.9v11.800000000000068M227.9,962.9v11.800000000000068M231.1,962.9v11.800000000000068M234.3,962.9v11.800000000000068M237.5,962.9v11.800000000000068M240.7,962.9v11.800000000000068M243.9,962.9v11.800000000000068M247.1,962.9v11.800000000000068M250.3,962.9v11.800000000000068M253.5,962.9v11.800000000000068M256.7,962.9v11.800000000000068M259.9,962.9v11.800000000000068M263.1,962.9v11.800000000000068M266.3,962.9v11.800000000000068M269.5,962.9v11.800000000000068M272.7,962.9v11.800000000000068M275.9,962.9v11.800000000000068M279.1,962.9v11.800000000000068M282.3,962.9v11.800000000000068M285.5,962.9v11.800000000000068M288.7,962.9v11.800000000000068M291.9,962.9v11.800000000000068M295.1,962.9v11.800000000000068M298.3,962.9v11.800000000000068M301.5,962.9v11.800000000000068M304.7,962.9v11.800000000000068M307.9,962.9v11.800000000000068M311.1,962.9v11.800000000000068M314.3,962.9v11.800000000000068M317.5,962.9v11.800000000000068M320.7,962.9v11.800000000000068M323.9,962.9v11.800000000000068M327.1,962.9v11.800000000000068M330.3,962.9v11.800000000000068M333.5,962.9v11.800000000000068M336.7,962.9v11.800000000000068M339.9,962.9v11.800000000000068M343.1,962.9v11.800000000000068M346.3,962.9v11.800000000000068M349.5,962.9v11.800000000000068M352.7,962.9v11.800000000000068M355.9,962.9v11.800000000000068M359.1,962.9v11.800000000000068M362.3,962.9v11.800000000000068M365.5,962.9v11.800000000000068M368.7,962.9v11.800000000000068" fill="none" stroke="#f4f4f2" stroke-width="0.9" opacity="1"/>
<rect x="297.5" y="963.4" width="5.5" height="10.800000000000068" fill="#8f8f8f" opacity="0.85"/>
<path d="M227.6,961.4 L235.1,953.8 L288.5,953.8 L296,961.4 L296,976.2 L288.5,983.6 L235.1,983.6 L227.6,976.2 Z" fill="#fdfdfb"/>
<rect x="231.6" y="985.6" width="62" height="10.5" fill="#e6d3c6" opacity="1"/>
<path d="M232.6,985.6v10.5M235.8,985.6v10.5M239.0,985.6v10.5M242.2,985.6v10.5M245.4,985.6v10.5M248.6,985.6v10.5M251.8,985.6v10.5M255.0,985.6v10.5M258.2,985.6v10.5M261.4,985.6v10.5M264.6,985.6v10.5M267.8,985.6v10.5M271.0,985.6v10.5M274.2,985.6v10.5M277.4,985.6v10.5M280.6,985.6v10.5M283.8,985.6v10.5M287.0,985.6v10.5M290.2,985.6v10.5" fill="none" stroke="#f4f4f2" stroke-width="0.9" opacity="1"/>
<path d="M155.5,961.4 L227.6,961.4 L235.1,953.8 L288.5,953.8 L296,961.4 L373,961.4" fill="none" stroke="#d8643c" stroke-width="5.2" stroke-linejoin="round"/>
<path d="M155.5,976.2 L227.6,976.2 L235.1,983.6 L288.5,983.6 L296,976.2 L373,976.2" fill="none" stroke="#d8643c" stroke-width="5.2" stroke-linejoin="round"/>
<text x="236" y="976.8" font-size="22" textLength="40" lengthAdjust="spacingAndGlyphs" fill="#151515" stroke="#151515" stroke-width="0.3">DSB</text>
<g transform="translate(0 0)">
<rect x="318" y="1001" width="4" height="11" fill="#d9d9d6" opacity="1"/>
<path d="M319.0,1001v11" fill="none" stroke="#f4f4f2" stroke-width="0.9" opacity="1"/>
<rect x="295" y="1001" width="24" height="11.5" fill="#d9d9d6" opacity="1"/>
<path d="M296.0,1001v11.5M299.2,1001v11.5M302.4,1001v11.5M305.6,1001v11.5M308.8,1001v11.5M312.0,1001v11.5M315.2,1001v11.5" fill="none" stroke="#f4f4f2" stroke-width="0.9" opacity="1"/>
<rect x="281.2" y="1016" width="9" height="35" fill="#d9d9d6"/>
<path d="M281.2,1017.0h9M281.2,1020.2h9M281.2,1023.4h9M281.2,1026.6h9M281.2,1029.8h9M281.2,1033.0h9M281.2,1036.2h9M281.2,1039.4h9M281.2,1042.6h9M281.2,1045.8h9" fill="none" stroke="#f4f4f2" stroke-width="0.9"/>
<path d="M226.5,998.8 L318.5,998.8 A12,12 0 1 1 318.5,1014.2 L296,1014.2 Q292,1014.2 292,1018.2 L292,1050.5 A12,12 0 1 1 279.2,1050.5 L279.2,1016" fill="none" stroke="#2c9b98" stroke-width="4.3" stroke-linejoin="round"/>
</g>
<rect x="279.8" y="959" width="3.4" height="6.5" fill="#a3238e" transform="rotate(14 281.5 962)"/>
<rect x="281.8" y="972" width="3.4" height="6.5" fill="#a3238e" transform="rotate(-14 283.5 975)"/>
<text x="239.2" y="929.8" font-size="22.5" textLength="44" lengthAdjust="spacingAndGlyphs" fill="#151515" stroke="#151515" stroke-width="0.3">Cas9</text>
<text x="133.7" y="949.8" font-size="22.5" textLength="66" lengthAdjust="spacingAndGlyphs" fill="#151515" stroke="#151515" stroke-width="0.3">dsDNA</text>
<text x="301.4" y="953.6" font-size="22.5" textLength="45" lengthAdjust="spacingAndGlyphs" fill="#151515" stroke="#151515" stroke-width="0.3">PAM</text>
<text x="211.7" y="1005.7" font-size="22" fill="#151515" stroke="#151515" stroke-width="0.3">5</text>
<text x="221.5" y="996" font-size="12" fill="#151515" stroke="#151515" stroke-width="0.3">*</text>
<text x="213.9" y="1021.5" font-size="17.5" textLength="51.5" lengthAdjust="spacingAndGlyphs" fill="#151515" stroke="#151515" stroke-width="0.3">sgRNA</text>
<text x="266.6" y="1019.4" font-size="22" fill="#151515" stroke="#151515" stroke-width="0.3">3</text>
<text x="277.5" y="1008.5" font-size="12" fill="#151515" stroke="#151515" stroke-width="0.3">*</text>
<path d="M94,1100 C91,1073 110,1043 150,1041 C178,1040 186,1063 184,1086 C208,1090 228,1113 226,1140 C224,1168 206,1184 184,1190 C168,1200 128,1200 110,1188 C92,1174 94,1138 94,1100 Z" fill="url(#gCas)" filter="url(#soft2)"/>
<rect x="47.3" y="1100.1" width="212.7" height="12.400000000000091" fill="#d9d9d6" opacity="1"/>
<path d="M48.3,1100.1v12.400000000000091M51.5,1100.1v12.400000000000091M54.7,1100.1v12.400000000000091M57.9,1100.1v12.400000000000091M61.1,1100.1v12.400000000000091M64.3,1100.1v12.400000000000091M67.5,1100.1v12.400000000000091M70.7,1100.1v12.400000000000091M73.9,1100.1v12.400000000000091M77.1,1100.1v12.400000000000091M80.3,1100.1v12.400000000000091M83.5,1100.1v12.400000000000091M86.7,1100.1v12.400000000000091M89.9,1100.1v12.400000000000091M93.1,1100.1v12.400000000000091M96.3,1100.1v12.400000000000091M99.5,1100.1v12.400000000000091M102.7,1100.1v12.400000000000091M105.9,1100.1v12.400000000000091M109.1,1100.1v12.400000000000091M112.3,1100.1v12.400000000000091M115.5,1100.1v12.400000000000091M118.7,1100.1v12.400000000000091M121.9,1100.1v12.400000000000091M125.1,1100.1v12.400000000000091M128.3,1100.1v12.400000000000091M131.5,1100.1v12.400000000000091M134.7,1100.1v12.400000000000091M137.9,1100.1v12.400000000000091M141.1,1100.1v12.400000000000091M144.3,1100.1v12.400000000000091M147.5,1100.1v12.400000000000091M150.7,1100.1v12.400000000000091M153.9,1100.1v12.400000000000091M157.1,1100.1v12.400000000000091M160.3,1100.1v12.400000000000091M163.5,1100.1v12.400000000000091M166.7,1100.1v12.400000000000091M169.9,1100.1v12.400000000000091M173.1,1100.1v12.400000000000091M176.3,1100.1v12.400000000000091M179.5,1100.1v12.400000000000091M182.7,1100.1v12.400000000000091M185.9,1100.1v12.400000000000091M189.1,1100.1v12.400000000000091M192.3,1100.1v12.400000000000091M195.5,1100.1v12.400000000000091M198.7,1100.1v12.400000000000091M201.9,1100.1v12.400000000000091M205.1,1100.1v12.400000000000091M208.3,1100.1v12.400000000000091M211.5,1100.1v12.400000000000091M214.7,1100.1v12.400000000000091M217.9,1100.1v12.400000000000091M221.1,1100.1v12.400000000000091M224.3,1100.1v12.400000000000091M227.5,1100.1v12.400000000000091M230.7,1100.1v12.400000000000091M233.9,1100.1v12.400000000000091M237.1,1100.1v12.400000000000091M240.3,1100.1v12.400000000000091M243.5,1100.1v12.400000000000091M246.7,1100.1v12.400000000000091M249.9,1100.1v12.400000000000091M253.1,1100.1v12.400000000000091M256.3,1100.1v12.400000000000091" fill="none" stroke="#f4f4f2" stroke-width="0.9" opacity="1"/>
<rect x="186.0" y="1100.6" width="5.5" height="11.400000000000091" fill="#8f8f8f" opacity="0.85"/>
<path d="M116,1098.6 L123.5,1091.0 L177.0,1091.0 L184.5,1098.6 L184.5,1114 L177.0,1121.4 L123.5,1121.4 L116,1114 Z" fill="#fdfdfb"/>
<rect x="120" y="1123.4" width="65.5" height="10.5" fill="#e6d3c6" opacity="1"/>
<path d="M121.0,1123.4v10.5M124.2,1123.4v10.5M127.4,1123.4v10.5M130.6,1123.4v10.5M133.8,1123.4v10.5M137.0,1123.4v10.5M140.2,1123.4v10.5M143.4,1123.4v10.5M146.6,1123.4v10.5M149.8,1123.4v10.5M153.0,1123.4v10.5M156.2,1123.4v10.5M159.4,1123.4v10.5M162.6,1123.4v10.5M165.8,1123.4v10.5M169.0,1123.4v10.5M172.2,1123.4v10.5M175.4,1123.4v10.5M178.6,1123.4v10.5M181.8,1123.4v10.5" fill="none" stroke="#f4f4f2" stroke-width="0.9" opacity="1"/>
<path d="M46.3,1098.6 L116,1098.6 L123.5,1091.0 L177.0,1091.0 L184.5,1098.6 L261,1098.6" fill="none" stroke="#d8643c" stroke-width="5.2" stroke-linejoin="round"/>
<path d="M46.3,1114 L116,1114 L123.5,1121.4 L177.0,1121.4 L184.5,1114 L261,1114" fill="none" stroke="#d8643c" stroke-width="5.2" stroke-linejoin="round"/>
<text x="120.7" y="1111.8" font-size="17" textLength="62" lengthAdjust="spacingAndGlyphs" fill="#151515" stroke="#151515" stroke-width="0.3">Mutation</text>
<g transform="translate(-112.2 138.2)">
<rect x="318" y="1001" width="4" height="11" fill="#d9d9d6" opacity="1"/>
<path d="M319.0,1001v11" fill="none" stroke="#f4f4f2" stroke-width="0.9" opacity="1"/>
<rect x="295" y="1001" width="24" height="11.5" fill="#d9d9d6" opacity="1"/>
<path d="M296.0,1001v11.5M299.2,1001v11.5M302.4,1001v11.5M305.6,1001v11.5M308.8,1001v11.5M312.0,1001v11.5M315.2,1001v11.5" fill="none" stroke="#f4f4f2" stroke-width="0.9" opacity="1"/>
<rect x="281.2" y="1016" width="9" height="35" fill="#d9d9d6"/>
<path d="M281.2,1017.0h9M281.2,1020.2h9M281.2,1023.4h9M281.2,1026.6h9M281.2,1029.8h9M281.2,1033.0h9M281.2,1036.2h9M281.2,1039.4h9M281.2,1042.6h9M281.2,1045.8h9" fill="none" stroke="#f4f4f2" stroke-width="0.9"/>
<path d="M226.5,998.8 L318.5,998.8 A12,12 0 1 1 318.5,1014.2 L296,1014.2 Q292,1014.2 292,1018.2 L292,1050.5 A12,12 0 1 1 279.2,1050.5 L279.2,1016" fill="none" stroke="#2c9b98" stroke-width="4.3" stroke-linejoin="round"/>
</g>
<text x="118.6" y="1068.4" font-size="22.5" textLength="55" lengthAdjust="spacingAndGlyphs" fill="#151515" stroke="#151515" stroke-width="0.3">dCas9</text>
<text x="26.9" y="1090" font-size="22.5" textLength="65.4" lengthAdjust="spacingAndGlyphs" fill="#151515" stroke="#151515" stroke-width="0.3">dsDAN</text>
<text x="188.2" y="1090" font-size="22.5" textLength="44.3" lengthAdjust="spacingAndGlyphs" fill="#151515" stroke="#151515" stroke-width="0.3">PAM</text>
<text x="98.6" y="1141.8" font-size="22" fill="#151515" stroke="#151515" stroke-width="0.3">5</text>
<text x="108.5" y="1132" font-size="12" fill="#151515" stroke="#151515" stroke-width="0.3">*</text>
<text x="94" y="1165" font-size="22" textLength="62.6" lengthAdjust="spacingAndGlyphs" fill="#151515" stroke="#151515" stroke-width="0.3">sgRNA</text>
<text x="157" y="1153" font-size="22" fill="#151515" stroke="#151515" stroke-width="0.3">3</text>
<text x="166.5" y="1142.5" font-size="12" fill="#151515" stroke="#151515" stroke-width="0.3">*</text>
<path d="M33,1180 C36,1170 50,1168 58,1170 C66,1166 78,1170 80,1180 C84,1190 80,1200 70,1202 C62,1204 58,1200 54,1204 C50,1212 40,1214 38,1206 C40,1198 30,1192 33,1180 Z" fill="#7099cf" filter="url(#soft2)"/>
<text x="38.5" y="1194.5" font-size="12" textLength="38" lengthAdjust="spacingAndGlyphs" font-weight="bold" fill="#1c2a55" stroke="#1c2a55" stroke-width="0.3">RNAP</text>
<path d="M66.5,1162.5 C67,1148 56,1138 32,1139" fill="none" stroke="#222" stroke-width="2.6" stroke-linecap="round"/>
<polygon points="24.5,1140 35,1134 34,1139.5 36,1145" fill="#111"/>
<path d="M46,1128 L58,1141 M58,1129 L46,1140 M52,1126 L52.5,1143" fill="none" stroke="#e0404e" stroke-width="1.4" stroke-linecap="round"/>
<text x="252.6" y="1184" font-size="27" textLength="108.5" lengthAdjust="spacingAndGlyphs" fill="#151515">转录调控</text>
<text y="1269.5" fill="#151515"><tspan x="119.0" font-size="30" textLength="116" lengthAdjust="spacingAndGlyphs">CRISPER</tspan><tspan x="235.0" font-size="28" textLength="57" lengthAdjust="spacingAndGlyphs">剪辑</tspan></text>
</g>
<g id="p8">
<path d="M483.7,998.7 H499 M483.7,1137 H499" fill="none" stroke="#2a2a2a" stroke-width="2.7"/>
<path d="M643,950 H499 V1046.8 H524" fill="none" stroke="#2a2a2a" stroke-width="2.7"/>
<path d="M524,1081.7 H499 V1179 H643" fill="none" stroke="#2a2a2a" stroke-width="2.7"/>
<path d="M599.6,1065 H614.7 M642,979 H614.7 V1151.6 H642" fill="none" stroke="#2a2a2a" stroke-width="2.7"/>
<path d="M721,964.2 H731.5 V1048.3 H756" fill="none" stroke="#2a2a2a" stroke-width="2.7"/>
<path d="M721,1165.8 H731.5 V1082 H756" fill="none" stroke="#2a2a2a" stroke-width="2.7"/>
<path d="M821,1065.2 H839.8" fill="none" stroke="#2a2a2a" stroke-width="2.7"/>
<path d="M507.2,1028.75 C542.75,1029.475 580.67,1046.875 586.2,1065 C580.67,1083.125 542.75,1100.525 507.2,1101.25 Q540.38,1065 507.2,1028.75 Z" fill="#b9dfe3" stroke="#4a4a52" stroke-width="1.7" stroke-linejoin="round"/>
<path d="M628,928.2 C664.09,928.9200000000001 702.586,946.2 708.2,964.2 C702.586,982.2 664.09,999.48 628,1000.2 Q661.684,964.2 628,928.2 Z" fill="#b3b2dc" stroke="#4a4a52" stroke-width="1.7" stroke-linejoin="round"/>
<path d="M628,1129.8 C664.09,1130.52 702.586,1147.8 708.2,1165.8 C702.586,1183.8 664.09,1201.08 628,1201.8 Q661.684,1165.8 628,1129.8 Z" fill="#c9b5de" stroke="#4a4a52" stroke-width="1.7" stroke-linejoin="round"/>
<path d="M740.3,1028.8 C777.02,1029.528 816.188,1047.0 821.9,1065.2 C816.188,1083.4 777.02,1100.872 740.3,1101.6000000000001 Q774.572,1065.2 740.3,1028.8 Z" fill="#c3dfab" stroke="#4a4a52" stroke-width="1.7" stroke-linejoin="round"/>
<circle cx="594.6" cy="1065" r="6.2" fill="#cfe6ea" stroke="#3a3a3a" stroke-width="1.6"/>
<circle cx="715.5" cy="964" r="6.2" fill="#c6c4e4" stroke="#3a3a3a" stroke-width="1.6"/>
<circle cx="715.5" cy="1165.7" r="6.2" fill="#d6c6e6" stroke="#3a3a3a" stroke-width="1.6"/>
<text x="0" y="0" font-size="26" text-anchor="middle" textLength="89" lengthAdjust="spacingAndGlyphs" fill="#151515" transform="translate(477 998.3) rotate(-90)">诱导物1</text>
<text x="0" y="0" font-size="26" text-anchor="middle" textLength="92" lengthAdjust="spacingAndGlyphs" fill="#151515" transform="translate(477 1137.7) rotate(-90)">诱导物2</text>
<text x="593.6" y="1274" font-size="29" textLength="117" lengthAdjust="spacingAndGlyphs" fill="#151515">遗传回路</text>
</g>
<g id="p9">
<rect x="973.6" y="914.7" width="99.8" height="184.8" rx="38" fill="#f1c8b7" filter="url(#soft)"/>
<rect x="1092" y="894.6" width="109" height="223.4" rx="33" fill="#acd6e2" filter="url(#soft)"/>
<path d="M984,1103.5 H1062 Q1072,1103.5 1072,1113.5 V1124 Q1072,1134.8 1083,1134.8 H1192 Q1202.5,1134.8 1202.5,1145 V1218 Q1202.5,1228.8 1192,1228.8 H984 Q973.6,1228.8 973.6,1218 V1114 Q973.6,1103.5 984,1103.5 Z" fill="#c9e1b8" filter="url(#soft)"/>
<text y="0" fill="#151515" transform="translate(954.5 1000.7) rotate(-90)"><tspan x="-34.6" font-size="26" textLength="52" lengthAdjust="spacingAndGlyphs">模块</tspan><tspan x="17.4" font-size="28" textLength="17.299999999999997" lengthAdjust="spacingAndGlyphs">A</tspan></text>
<text y="0" fill="#151515" transform="translate(1233.5 1011) rotate(-90)"><tspan x="-34.4" font-size="26" textLength="52" lengthAdjust="spacingAndGlyphs">模块</tspan><tspan x="17.6" font-size="28" textLength="16.799999999999997" lengthAdjust="spacingAndGlyphs">B</tspan></text>
<text y="0" fill="#151515" transform="translate(954.5 1165.2) rotate(-90)"><tspan x="-36.8" font-size="26" textLength="52" lengthAdjust="spacingAndGlyphs">模块</tspan><tspan x="15.2" font-size="28" textLength="21.599999999999994" lengthAdjust="spacingAndGlyphs">C</tspan></text>
<text x="987.7" y="977" font-size="27" textLength="26" lengthAdjust="spacingAndGlyphs" fill="#151515" stroke="#151515" stroke-width="0.3">E1</text>
<line x1="1021.3" y1="951.7" x2="1021.3" y2="989.7" stroke="#1c1c1c" stroke-width="4.2"/>
<polygon points="1021.3,998.7 1013.8,980.7 1021.3,984.7 1028.8,980.7" fill="#1c1c1c"/>
<text x="987.7" y="1059" font-size="27" textLength="28.5" lengthAdjust="spacingAndGlyphs" fill="#151515" stroke="#151515" stroke-width="0.3">E4</text>
<line x1="1021.3" y1="1035.7" x2="1021.3" y2="1075.4" stroke="#1c1c1c" stroke-width="4.2"/>
<polygon points="1021.3,1084.4 1013.8,1066.4 1021.3,1070.4 1028.8,1066.4" fill="#1c1c1c"/>
<text x="1138.9" y="924.8" font-size="27" textLength="14" lengthAdjust="spacingAndGlyphs" fill="#151515" stroke="#151515" stroke-width="0.3">C</text>
<text x="1113" y="953.4" font-size="27" textLength="27.6" lengthAdjust="spacingAndGlyphs" fill="#151515" stroke="#151515" stroke-width="0.3">E2</text>
<line x1="1145.6" y1="931.5" x2="1145.6" y2="969.6" stroke="#1c1c1c" stroke-width="4.2"/>
<polygon points="1145.6,978.6 1138.1,960.6 1145.6,964.6 1153.1,960.6" fill="#1c1c1c"/>
<text x="1138" y="1003.8" font-size="27" textLength="16" lengthAdjust="spacingAndGlyphs" fill="#151515" stroke="#151515" stroke-width="0.3">D</text>
<text x="1113" y="1035.7" font-size="27" textLength="27.6" lengthAdjust="spacingAndGlyphs" fill="#151515" stroke="#151515" stroke-width="0.3">E3</text>
<line x1="1145.6" y1="1010.5" x2="1145.6" y2="1050" stroke="#1c1c1c" stroke-width="4.2"/>
<polygon points="1145.6,1059 1138.1,1041 1145.6,1045 1153.1,1041" fill="#1c1c1c"/>
<text x="1138" y="1082.7" font-size="27" textLength="15.5" lengthAdjust="spacingAndGlyphs" fill="#151515" stroke="#151515" stroke-width="0.3">E</text>
<line x1="1021.3" y1="1059.9" x2="1132.2" y2="1073.6" stroke="#1c1c1c" stroke-width="2.8"/>
<text x="987.7" y="1148" font-size="27" textLength="27" lengthAdjust="spacingAndGlyphs" fill="#151515" stroke="#151515" stroke-width="0.3">E5</text>
<line x1="1021.3" y1="1118" x2="1021.3" y2="1164.4" stroke="#1c1c1c" stroke-width="4.2"/>
<polygon points="1021.3,1173.4 1013.8,1155.4 1021.3,1159.4 1028.8,1155.4" fill="#1c1c1c"/>
<text x="1014.6" y="1197" font-size="27" textLength="17" lengthAdjust="spacingAndGlyphs" fill="#151515" stroke="#151515" stroke-width="0.3">G</text>
<text x="1070" y="1178.4" font-size="27" textLength="28.6" lengthAdjust="spacingAndGlyphs" fill="#151515" stroke="#151515" stroke-width="0.3">E6</text>
<line x1="1043" y1="1187.5" x2="1120" y2="1187.5" stroke="#1c1c1c" stroke-width="3.6"/>
<polygon points="1131.5,1187.5 1113.5,1180.5 1117.5,1187.5 1113.5,1194.5" fill="#1c1c1c"/>
<text x="1135.5" y="1197" font-size="27" textLength="18.5" lengthAdjust="spacingAndGlyphs" fill="#151515" stroke="#151515" stroke-width="0.3">H</text>
<text x="1029.7" y="1271.5" font-size="29" textLength="116" lengthAdjust="spacingAndGlyphs" fill="#151515">模块组装</text>
</g>
</svg>
</body></html>
